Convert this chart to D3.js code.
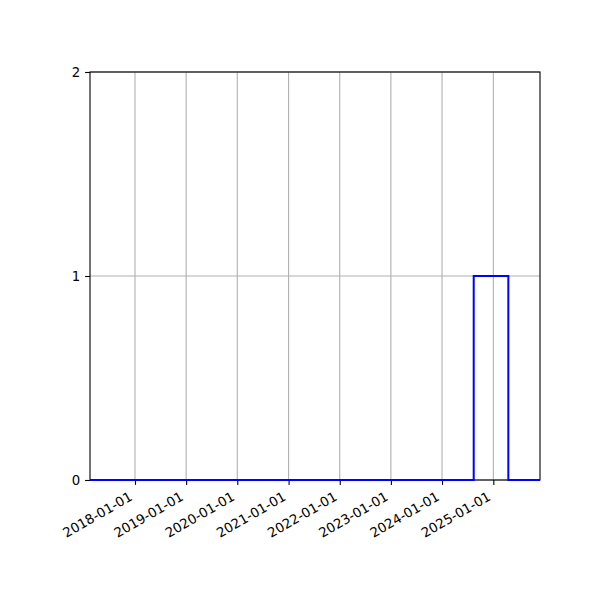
<!DOCTYPE html>
<html><head><meta charset="utf-8">
<script src="https://cdn.jsdelivr.net/npm/d3@7"></script>
<style>body{margin:0;background:#fff}svg{display:block}text{font-family:"DejaVu Sans";}</style>
</head><body>
<div id="chart"></div>
<script>
const dates = ["2017-02-14","2024-08-14","2025-04-18","2025-11-30"];
const values = [0, 1, 0, 0];
const xDomain = ["2017-02-14","2025-11-30"];
const xTicks = ["2018-01-01","2019-01-01","2020-01-01","2021-01-01","2022-01-01","2023-01-01","2024-01-01","2025-01-01"];
const yTicks = [0, 1, 2];

const W = 600, H = 600;
const m = {left: 90, right: 60, top: 72, bottom: 120};
const parse = d3.utcParse("%Y-%m-%d");
const svg = d3.select("#chart").append("svg").attr("width", W).attr("height", H);

const x = d3.scaleUtc().domain(xDomain.map(parse)).range([m.left, W - m.right]);
const y = d3.scaleLinear().domain([0, 2]).range([H - m.bottom, m.top]);

// grid
const g = svg.append("g");
g.selectAll(".gx").data(xTicks).join("line")
  .attr("x1", d => x(parse(d))).attr("x2", d => x(parse(d)))
  .attr("y1", m.top).attr("y2", H - m.bottom)
  .attr("stroke", "#b0b0b0").attr("stroke-width", 1.1);
g.selectAll(".gy").data(yTicks).join("line")
  .attr("x1", m.left).attr("x2", W - m.right)
  .attr("y1", d => y(d)).attr("y2", d => y(d))
  .attr("stroke", "#b0b0b0").attr("stroke-width", 1.1);

// spines
svg.append("rect").attr("x", m.left).attr("y", m.top)
  .attr("width", W - m.left - m.right).attr("height", H - m.top - m.bottom)
  .attr("fill", "none").attr("stroke", "#000").attr("stroke-width", 1.1);

// axes
const xAxis = d3.axisBottom(x).tickValues(xTicks.map(parse))
  .tickFormat(d3.utcFormat("%Y-%m-%d")).tickSize(4.9).tickPadding(3);
const xa = svg.append("g").attr("transform", `translate(0,${H - m.bottom})`).call(xAxis);
xa.select(".domain").remove();
xa.selectAll(".tick line").attr("stroke", "#000").attr("stroke-width", 1.1);
xa.selectAll(".tick text").attr("font-size", 13.3).attr("fill", "#000")
  .attr("font-family", "DejaVu Sans")
  .attr("text-anchor", "end").attr("dy", null).attr("y", 0)
  .attr("transform", "translate(-7,11) rotate(-30)")
  .attr("dominant-baseline", "hanging");

const yAxis = d3.axisLeft(y).tickValues(yTicks).tickFormat(d3.format("d")).tickSize(4.9).tickPadding(4.9);
const ya = svg.append("g").attr("transform", `translate(${m.left},0)`).call(yAxis);
ya.select(".domain").remove();
ya.selectAll(".tick line").attr("stroke", "#000").attr("stroke-width", 1.1);
ya.selectAll(".tick text").attr("font-size", 13.3).attr("fill", "#000").attr("font-family", "DejaVu Sans");

// step line
const data = dates.map((d, i) => ({date: parse(d), v: values[i]}));
const line = d3.line().x(d => x(d.date)).y(d => y(d.v)).curve(d3.curveStepAfter);
svg.append("path").datum(data).attr("d", line)
  .attr("fill", "none").attr("stroke", "#0000ff").attr("stroke-width", 2);
</script>
</body></html>
